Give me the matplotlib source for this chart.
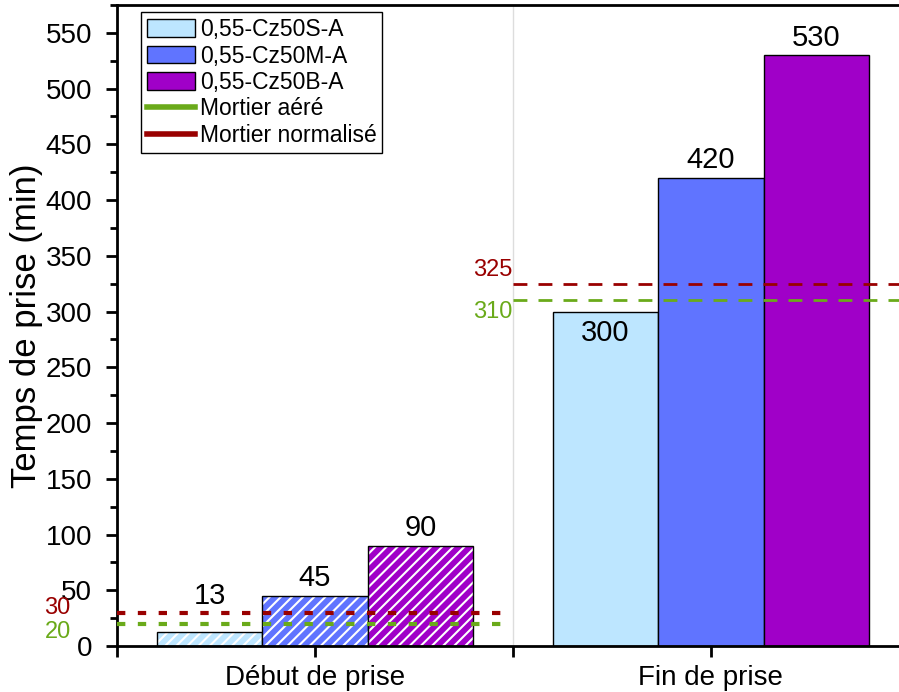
import matplotlib.pyplot as plt
from matplotlib.patches import Patch
from matplotlib.lines import Line2D
import numpy as np

plt.rcParams['font.family'] = ['Liberation Sans', 'DejaVu Sans']
plt.rcParams['hatch.linewidth'] = 1.5

# == données ==
categories = ["Début de prise", "Fin de prise"]
series = ["0,55-Cz50S-A", "0,55-Cz50M-A", "0,55-Cz50B-A"]
debut = [13, 45, 90]
fin = [300, 420, 530]
colors = ["#BDE6FF", "#6074FF", "#A000C8"]

aere_debut, norm_debut = 20, 30
aere_fin, norm_fin = 310, 325

fig = plt.figure(figsize=(8.99, 6.92), dpi=100)
ax = fig.add_axes([117 / 899, 46 / 692, 1 - 117 / 899, 641 / 692])

width = 0.266
offsets = [-width, 0, width]
for i in range(3):
    # début de prise : hachuré blanc, contour noir par-dessus
    ax.bar(0 + offsets[i], debut[i], width, color=colors[i], edgecolor="white",
           linewidth=0, hatch="///", zorder=2)
    ax.bar(0 + offsets[i], debut[i], width, fill=False, edgecolor="black",
           linewidth=1, zorder=2)
    ax.bar(1 + offsets[i], fin[i], width, color=colors[i], edgecolor="black",
           linewidth=1, zorder=2)
    # étiquettes
    dy = 19 if i == 0 else 3
    ax.text(0 + offsets[i], debut[i] + dy, str(debut[i]), ha="center", va="bottom", fontsize=21, zorder=4)
    if i == 0:
        ax.text(1 + offsets[i], fin[i] - 7, str(fin[i]), ha="center", va="top", fontsize=21, zorder=4)
    else:
        ax.text(1 + offsets[i], fin[i] + 3, str(fin[i]), ha="center", va="bottom", fontsize=21, zorder=4)

green = "#6AAA1A"
red = "#990000"

# lignes de référence
ax.plot([-0.5, 0.48], [norm_debut, norm_debut], color=red, ls=(0, (2, 3)), lw=3, zorder=3)
ax.plot([-0.5, 0.48], [aere_debut, aere_debut], color=green, ls=(0, (2, 3)), lw=3, zorder=3)
ax.plot([0.5, 1.475], [norm_fin, norm_fin], color=red, ls=(0, (5, 4)), lw=2, zorder=3)
ax.plot([0.5, 1.475], [aere_fin, aere_fin], color=green, ls=(0, (5, 4)), lw=2, zorder=3)

ax.text(-0.65, norm_debut + 4, str(norm_debut), color=red, fontsize=17, ha="center", va="center", clip_on=False)
ax.text(-0.65, aere_debut - 7, str(aere_debut), color=green, fontsize=17, ha="center", va="center", clip_on=False)
ax.text(0.45, norm_fin + 12, str(norm_fin), color=red, fontsize=17, ha="center", va="center")
ax.text(0.45, aere_fin - 10, str(aere_fin), color=green, fontsize=17, ha="center", va="center")

# séparateur
ax.axvline(0.5, color="#DDDDDD", lw=1, zorder=1)

ax.set_xlim(-0.5, 1.475)
ax.set_ylim(0, 575)
ax.set_xticks([-0.5, 0, 0.5, 1])
ax.set_xticklabels(["", categories[0], "", categories[1]], fontsize=20)
ax.set_yticks(np.arange(0, 551, 50))
ax.set_yticks(np.arange(25, 576, 50), minor=True)
ax.tick_params(axis="y", labelsize=20, width=2, length=8, pad=10)
ax.tick_params(axis="y", which="minor", width=2, length=5)
ax.tick_params(axis="x", width=2, length=8, pad=6)
ax.set_ylabel("Temps de prise (min)", fontsize=25, labelpad=2)

for s in ["left", "bottom", "top"]:
    ax.spines[s].set_linewidth(2)
ax.spines["right"].set_visible(False)

handles = [Patch(facecolor=c, edgecolor="black", label=l) for c, l in zip(colors, series)]
handles += [Line2D([0], [0], color=green, lw=4, label="Mortier aéré"),
            Line2D([0], [0], color=red, lw=4, label="Mortier normalisé")]
ax.legend(handles=handles, loc="upper left", bbox_to_anchor=(0.028, 0.992), fontsize=16.5,
          frameon=True, fancybox=False, edgecolor="black", framealpha=1,
          handlelength=2.1, handleheight=0.8, handletextpad=0.2, labelspacing=0.15,
          borderpad=0.25, borderaxespad=0.1)

fig.savefig("out.png", dpi=100)
